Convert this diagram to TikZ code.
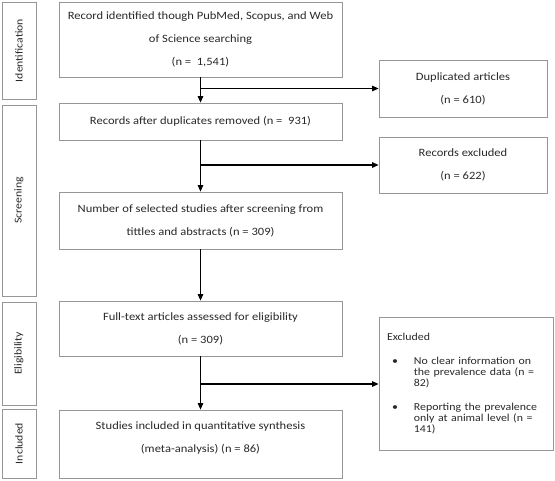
\documentclass[tikz,border=0pt]{standalone}
\usepackage{fontspec}
\setmainfont{Carlito}[FakeStretch=1.12]
\usetikzlibrary{arrows.meta, positioning}
\definecolor{edge}{RGB}{150,150,150}
\definecolor{ink}{RGB}{40,40,40}
\tikzset{
  % caixa principal do fluxo
  mainbox/.style={rectangle, draw=edge, thick, minimum width=283pt, inner sep=0pt,
                  align=center, font=\fontsize{11.2}{22.8}\selectfont, text=ink},
  % caixa de exclusao (direita)
  sidebox/.style={rectangle, draw=edge, thick, minimum width=168pt, inner sep=0pt,
                  align=center, font=\fontsize{11.2}{22.8}\selectfont, text=ink},
  % rotulo de fase (vertical, esquerda)
  phase/.style={rectangle, draw=edge, thick, minimum width=34pt, inner sep=0pt,
                font=\fontsize{10.5}{12}\selectfont, text=ink},
  ar/.style={-{Triangle[length=6.5pt, width=5.5pt]}, line width=1.1pt, draw=black}
}
\begin{document}
\begin{tikzpicture}[x=1pt,y=-1pt]
    \useasboundingbox (0,0) rectangle (555,480);

    % ---- fases ----
    \node[phase, minimum height=97pt]  (ph1) at (19,50.5)  {\rotatebox{90}{Identification}};
    \node[phase, minimum height=191pt] (ph2) at (19,200.5) {\rotatebox{90}{Screening}};
    \node[phase, minimum height=103pt] (ph3) at (19,353.5) {\rotatebox{90}{Eligibility}};
    \node[phase, minimum height=69pt]  (ph4) at (19,443.5) {\rotatebox{90}{Included}};

    % ---- coluna principal ----
    \node[mainbox, minimum height=75pt] (rec) at (200.5,39.5)
      {Record identified though PubMed, Scopus, and Web\\of Science searching\\(n =\ \ 1,541)};
    \node[mainbox, minimum height=37pt] (dedup) at (200.5,121.5)
      {Records after duplicates removed (n =\ \ 931)};
    \node[mainbox, minimum height=57pt] (scr) at (200.5,220.5)
      {Number of selected studies after screening from\\tittles and abstracts (n = 309)};
    \node[mainbox, minimum height=55pt] (full) at (200.5,328.5)
      {Full-text articles assessed for eligibility\\(n = 309)};
    \node[mainbox, minimum height=68pt, text depth=14pt] (incl) at (200.5,444)
      {Studies included in quantitative synthesis\\(meta-analysis) (n = 86)};

    % ---- exclusoes ----
    \node[sidebox, minimum height=57pt] (dup) at (463,88.5)
      {Duplicated articles\\(n = 610)};
    \node[sidebox, minimum height=56pt] (rex) at (463,165)
      {Records excluded\\(n = 622)};
    \node[sidebox, minimum width=174pt, minimum height=133pt, text width=158pt, align=left,
          font=\fontsize{10.6}{10.7}\selectfont] (exc) at (466,384)
      {Excluded\\[16pt]
       \begin{tabular}{@{\hspace{5pt}}l@{\hspace{16pt}}l@{}}
         \textbullet & No clear information on\\
                     & the prevalence data (n =\\
                     & 82)\\[13pt]
         \textbullet & Reporting the prevalence\\
                     & only at animal level (n =\\
                     & 141)
       \end{tabular}};

    % ---- setas ----
    \draw[ar] (rec) -- (dedup);
    \draw[ar] (dedup) -- (scr);
    \draw[ar] (scr) -- (full);
    \draw[ar] (full) -- (incl);
    \draw[ar] (rec.south |- dup.west) -- (dup.west);
    \draw[ar] (dedup.south |- rex.west) -- (rex.west);
    \draw[ar] (full.south |- exc.west) -- (exc.west);
  \end{tikzpicture}
\end{document}
